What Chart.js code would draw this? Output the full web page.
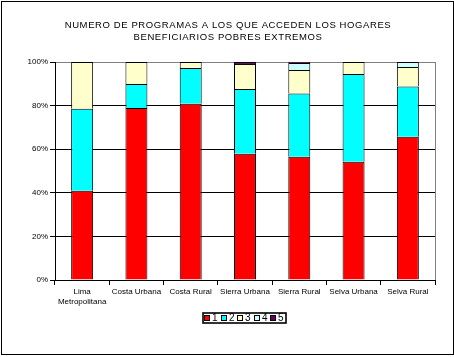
<!DOCTYPE html>
<html>
<head>
<meta charset="utf-8">
<script src="https://cdn.jsdelivr.net/npm/chart.js@4.4.1/dist/chart.umd.min.js"></script>
<style>
html,body{margin:0;padding:0;background:#fff;}
#wrap{width:454px;height:357px;position:relative;}
</style>
</head>
<body>
<div id="wrap"><canvas id="c" width="454" height="357"></canvas></div>
<script>
const titleLines = ['NUMERO DE PROGRAMAS A LOS QUE ACCEDEN LOS HOGARES', 'BENEFICIARIOS POBRES EXTREMOS'];
const categories = [['Lima', 'Metropolitana'], 'Costa Urbana', 'Costa Rural', 'Sierra Urbana', 'Sierra Rural', 'Selva Urbana', 'Selva Rural'];
const seriesNames = ['1', '2', '3', '4', '5'];
const s1 = [40.9, 78.9, 80.8, 57.9, 56.5, 54.2, 65.7];
const s2 = [37.6, 11.0, 16.4, 29.7, 29.1, 40.3, 23.1];
const s3 = [21.5, 10.1, 2.8, 11.5, 10.7, 5.5, 8.9];
const s4 = [0.0, 0.0, 0.0, 0.0, 3.2, 0.0, 2.3];
const s5 = [0.0, 0.0, 0.0, 0.9, 0.5, 0.0, 0.0];
const yTicks = [0, 20, 40, 60, 80, 100];

const colors = ['#FF0000', '#00FFFF', '#FFFFCC', '#CCFFFF', '#660066'];
const FONT = '"Liberation Sans", Arial, sans-serif';

const framePlugin = {
  id: 'frame',
  afterDraw(chart) {
    const ctx = chart.ctx;
    const a = chart.chartArea;
    ctx.save();
    // grey plot-area right border
    ctx.strokeStyle = '#808080';
    ctx.lineWidth = 1;
    ctx.beginPath();
    ctx.moveTo(Math.round(a.right) + 0.5, a.top);
    ctx.lineTo(Math.round(a.right) + 0.5, a.bottom);
    ctx.stroke();
    // title
    ctx.fillStyle = '#000';
    ctx.font = '9.5px ' + FONT;
    ctx.textAlign = 'center';
    ctx.textBaseline = 'middle';
    if ('letterSpacing' in ctx) ctx.letterSpacing = '0.6px';
    ctx.fillText(titleLines[0], 228, 25);
    ctx.fillText(titleLines[1], 228, 37);
    if ('letterSpacing' in ctx) ctx.letterSpacing = '0px';
    // legend (from datasets)
    const ds = chart.data.datasets;
    const lx = 204, pitch = 16.5, ly = 315;
    ctx.font = '10px ' + FONT;
    ctx.textAlign = 'left';
    ctx.textBaseline = 'middle';
    ds.forEach((d, i) => {
      const x = Math.round(lx + i * pitch);
      ctx.fillStyle = d.backgroundColor;
      ctx.fillRect(x, ly, 6, 6);
      ctx.strokeStyle = '#000';
      ctx.lineWidth = 1;
      ctx.strokeRect(x + 0.5, ly + 0.5, 5, 5);
      ctx.fillStyle = '#000';
      ctx.fillText(d.label, x + 8, ly + 3.5);
    });
    ctx.strokeStyle = '#000';
    ctx.lineWidth = 1.6;
    ctx.strokeRect(203, 313, 83, 10);
    // outer frame
    ctx.lineWidth = 1;
    ctx.strokeRect(1.5, 1.5, 452, 353);
    ctx.restore();
  }
};

const mk = (i, data) => ({
  label: seriesNames[i], data, backgroundColor: colors[i], borderColor: '#000', borderWidth: 1,
  barPercentage: 0.405, categoryPercentage: 1.0
});

new Chart(document.getElementById('c'), {
  type: 'bar',
  data: {
    labels: categories,
    datasets: [mk(0, s1), mk(1, s2), mk(2, s3), mk(3, s4), mk(4, s5)]
  },
  options: {
    responsive: false,
    animation: false,
    layout: { padding: { left: 0, right: 19, top: 62, bottom: 47 } },
    plugins: {
      title: { display: false },
      tooltip: { enabled: false },
      legend: { display: false }
    },
    scales: {
      x: {
        stacked: true,
        grid: { display: true, drawOnChartArea: false, drawTicks: true, tickLength: 5, color: '#000', offset: true },
        border: { display: true, color: '#000' },
        ticks: { color: '#000', font: { family: FONT, size: 8 }, maxRotation: 0, autoSkip: false, padding: 2 },
        afterFit(s) { s.height = 30; }
      },
      y: {
        stacked: true, min: 0, max: 100,
        afterBuildTicks(s) { s.ticks = yTicks.map(v => ({ value: v })); },
        grid: {
          color: c => (c.tick && c.tick.value === 100) ? '#808080' : '#000',
          tickColor: '#000', tickLength: 5, lineWidth: 1
        },
        border: { display: true, color: '#000' },
        ticks: { color: '#000', font: { family: FONT, size: 8 }, padding: 2, callback: v => v + '%' },
        afterFit(s) { s.width = 55; }
      }
    }
  },
  plugins: [framePlugin]
});
</script>
</body>
</html>
